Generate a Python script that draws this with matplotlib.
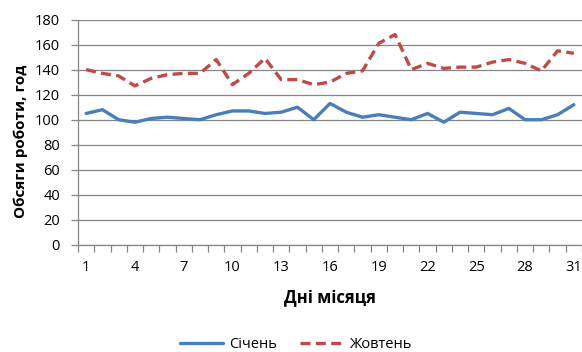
import numpy as np
import matplotlib.pyplot as plt
from matplotlib.ticker import MultipleLocator, FixedLocator

plt.rcParams["font.family"] = ["Open Sans", "DejaVu Sans"]

days = np.arange(1, 32)
january = [105, 108, 100, 98, 101, 102, 101, 100, 104, 107, 107, 105, 106, 110, 100,
           113, 106, 102, 104, 102, 100, 105, 98, 106, 105, 104, 109, 100, 100, 104, 112]
october = [140, 137, 135, 127, 133, 136, 137, 137, 148, 128, 137, 149, 132, 132, 128,
           130, 137, 139, 161, 168, 140, 145, 141, 142, 142, 146, 148, 145, 139, 155, 153]
tick_days = [1, 4, 7, 10, 13, 16, 19, 22, 25, 28, 31]

grid_col = "#868686"

fig = plt.figure(figsize=(5.82, 3.52), dpi=100)
ax = fig.add_axes([78 / 582, 1 - 245 / 352, 1 - 78 / 582, 225.5 / 352])

ax.plot(days, january, color="#4A7EBB", lw=2.4, label="Січень",
        solid_capstyle="round", solid_joinstyle="round")
ax.plot(days, october, color="#BE4B48", lw=2.4, ls=(0, (3, 1.6)), label="Жовтень",
        dash_capstyle="butt")

ax.set_xlim(0.5, 31.5)
ax.set_ylim(0, 180)
ax.yaxis.set_major_locator(MultipleLocator(20))
ax.yaxis.grid(True, color=grid_col, lw=0.9)
ax.set_axisbelow(True)

# category boundaries get tick marks, every third day gets a label
ax.xaxis.set_major_locator(FixedLocator(tick_days))
ax.xaxis.set_minor_locator(FixedLocator(np.arange(0.5, 32, 1)))
ax.tick_params(axis="x", which="major", length=0, pad=11, labelsize=10.5)
ax.tick_params(axis="x", which="minor", length=5, width=0.9, color=grid_col)
ax.tick_params(axis="y", length=5, width=0.9, color=grid_col, pad=8, labelsize=10.5)

for side in ("top", "right"):
    ax.spines[side].set_visible(False)
for side in ("left", "bottom"):
    ax.spines[side].set_color(grid_col)
    ax.spines[side].set_linewidth(0.9)

ax.set_xlabel("Дні місяця", fontsize=12, fontweight="bold", labelpad=10)
ax.set_ylabel("Обсяги роботи, год", fontsize=11, fontweight="bold")
ax.yaxis.set_label_coords(-50 / 504, 0.46)

fig.legend(loc="center", bbox_to_anchor=(296 / 582, 1 - 345 / 352), ncol=2,
           frameon=False, fontsize=10.5, handlelength=2.9, columnspacing=1.6,
           handletextpad=0.45)

fig.savefig("out.png", dpi=100)
